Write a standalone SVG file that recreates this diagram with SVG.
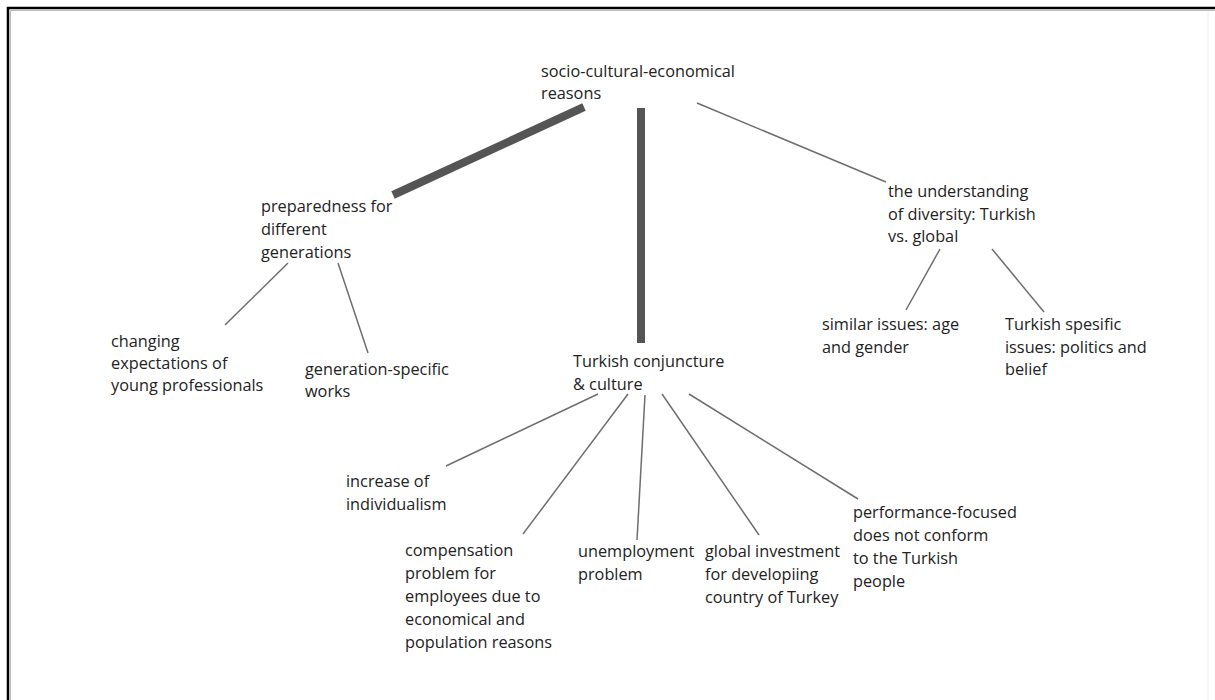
<svg xmlns="http://www.w3.org/2000/svg" width="1215" height="700" viewBox="0 0 1215 700">
  <style>
    .lbl { font-family: "Open Sans", "Liberation Sans", sans-serif; font-size: 16.3px; fill: #222; }
    .thin { stroke: #6e6e6e; stroke-width: 1.5; fill: none; }
    .thick { stroke: #555; stroke-width: 8; fill: none; }
  </style>
  <rect width="1215" height="700" fill="#fff"/>
  <!-- frame: top and left edges only -->
  <path d="M8,700 V8 H1215" fill="none" stroke="#000" stroke-width="2.5"/>
  <path d="M10.5,700 V10.5 H1215" fill="none" stroke="#bbb" stroke-width="1"/>
  <line x1="1208" y1="12" x2="1208" y2="700" stroke="#eee" stroke-width="1"/>

  <g id="connectors">
    <line class="thick" x1="584" y1="107" x2="393" y2="195"/>
    <line class="thick" x1="641" y1="108" x2="641" y2="343"/>
    <line class="thin" x1="697" y1="103" x2="886" y2="182"/>
    <line class="thin" x1="288" y1="263" x2="225" y2="325"/>
    <line class="thin" x1="338" y1="263" x2="368" y2="353"/>
    <line class="thin" x1="940" y1="249" x2="906" y2="310"/>
    <line class="thin" x1="992" y1="249" x2="1044" y2="312"/>
    <line class="thin" x1="598" y1="394" x2="446" y2="466"/>
    <line class="thin" x1="628" y1="394" x2="523" y2="534"/>
    <line class="thin" x1="645" y1="395" x2="637" y2="540"/>
    <line class="thin" x1="662" y1="394" x2="759" y2="535"/>
    <line class="thin" x1="689" y1="394" x2="858" y2="499"/>
  </g>

  <g id="root">
    <text class="lbl" x="541" y="77">socio-cultural-economical</text>
    <text class="lbl" x="541" y="99">reasons</text>
  </g>
  <g id="preparedness">
    <text class="lbl" x="261" y="212">preparedness for</text>
    <text class="lbl" x="261" y="235">different</text>
    <text class="lbl" x="261" y="258">generations</text>
  </g>
  <g id="diversity">
    <text class="lbl" x="888" y="197">the understanding</text>
    <text class="lbl" x="888" y="219.5">of diversity: Turkish</text>
    <text class="lbl" x="888" y="242">vs. global</text>
  </g>
  <g id="changing">
    <text class="lbl" x="111" y="347">changing</text>
    <text class="lbl" x="111" y="369">expectations of</text>
    <text class="lbl" x="111" y="391">young professionals</text>
  </g>
  <g id="generation-specific">
    <text class="lbl" x="305" y="375">generation-specific</text>
    <text class="lbl" x="305" y="397">works</text>
  </g>
  <g id="similar">
    <text class="lbl" x="822" y="330">similar issues: age</text>
    <text class="lbl" x="822" y="352.5">and gender</text>
  </g>
  <g id="turkish-specific">
    <text class="lbl" x="1005" y="330">Turkish spesific</text>
    <text class="lbl" x="1005" y="352.5">issues: politics and</text>
    <text class="lbl" x="1005" y="375">belief</text>
  </g>
  <g id="conjuncture">
    <text class="lbl" x="573" y="367">Turkish conjuncture</text>
    <text class="lbl" x="573" y="390">&amp; culture</text>
  </g>
  <g id="individualism">
    <text class="lbl" x="346" y="487">increase of</text>
    <text class="lbl" x="346" y="510">individualism</text>
  </g>
  <g id="compensation">
    <text class="lbl" x="405" y="556">compensation</text>
    <text class="lbl" x="405" y="579">problem for</text>
    <text class="lbl" x="405" y="602">employees due to</text>
    <text class="lbl" x="405" y="625">economical and</text>
    <text class="lbl" x="405" y="648">population reasons</text>
  </g>
  <g id="unemployment">
    <text class="lbl" x="578" y="557">unemployment</text>
    <text class="lbl" x="578" y="580">problem</text>
  </g>
  <g id="investment">
    <text class="lbl" x="705" y="557">global investment</text>
    <text class="lbl" x="705" y="580">for developiing</text>
    <text class="lbl" x="705" y="603">country of Turkey</text>
  </g>
  <g id="performance">
    <text class="lbl" x="853" y="518">performance-focused</text>
    <text class="lbl" x="853" y="541">does not conform</text>
    <text class="lbl" x="853" y="564">to the Turkish</text>
    <text class="lbl" x="853" y="587">people</text>
  </g>
</svg>
